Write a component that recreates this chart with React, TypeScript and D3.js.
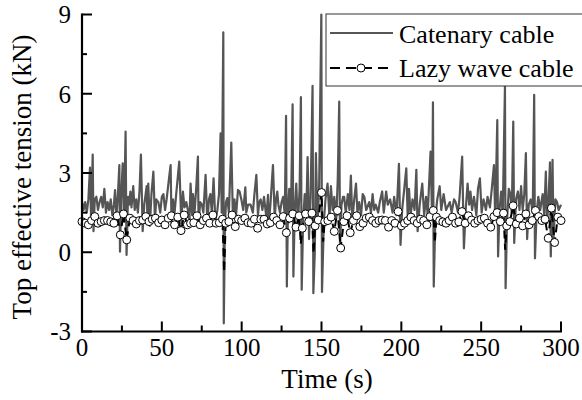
import React from "react";
import * as d3 from "d3";

// Catenary cable: [time (s), top effective tension (kN)]
const catenary: [number, number][] = [
  [0, 1.9], [1, 1.6], [2, 1.9], [3, 1.5], [4, 2.0], [5, 3.2], [5.7, 1.2], [6.7, 3.7], [7.2, 0.8], [8, 2.0],
  [9, 2.1], [10, 1.6], [11, 1.9], [12, 2.1], [13, 1.7], [14, 2.4], [15, 1.5], [16, 1.9], [17, 1.6], [18, 2.0],
  [19, 1.4], [20, 1.8], [20.7, 2.35], [21.5, 1.3], [22.5, 2.2], [23.4, 3.3], [23.8, 0.02], [24.5, 2.0], [25.5, 3.37],
  [26.3, 1.2], [27.3, 4.57], [27.9, -0.1], [28.8, 2.1], [29.5, 1.8], [30.3, 2.3], [31, 1.7], [32.1, 2.5], [33, 1.6],
  [34, 2.0], [35, 1.5], [36, 2.3], [36.9, 3.7], [38, 0.8], [39, 1.8], [40.5, 2.5], [41, 1.2], [41.5, 2.6], [42.5, 1.0],
  [43.5, 2.2], [44.7, 3.05], [45.7, 1.2], [46.5, 2.0], [47.8, 1.9], [49, 1.5], [50, 2.1], [51, 2.2], [52, 1.6],
  [53, 2.0], [54.5, 2.8], [55.5, 3.3], [56.1, 1.0], [57, 2.0], [58, 1.5], [59, 2.2], [60.9, 3.43], [62.2, 1.1],
  [63.2, 2.3], [64.2, 1.7], [65.3, 1.9], [66.3, 1.6], [67.3, 1.2], [68, 2.6], [69, 1.4], [69.5, 2.2], [70.5, 1.5],
  [71.6, 2.5], [72.6, 3.62], [73, 1.0], [74, 1.9], [75.1, 1.8], [76, 1.5], [77.4, 2.93], [78.5, 1.1], [79.5, 2.0],
  [80.4, 2.2], [81.3, 1.5], [82.4, 2.8], [83.5, 1.2], [84.8, 1.6], [85.8, 2.2], [86.8, 4.5], [87.5, 1.5], [88.5, 8.32],
  [88.8, -2.69], [89.5, 1.0], [90.2, 1.9], [91, 2.05], [92, 1.5], [93.5, 4.15], [94.5, 1.3], [95.5, 2.0], [96.5, 1.4],
  [97.7, 2.36], [98.7, 2.3], [99.8, 2.0], [101, 1.6], [102.3, 2.46], [102.9, 1.5], [104, 1.8], [105.6, 1.8], [107, 1.5],
  [108, 2.2], [109.2, 2.93], [110.2, 1.4], [111, 1.9], [111.9, 2.0], [113, 1.6], [114, 2.1], [115.5, 1.3], [116.5, 2.17],
  [116.9, 1.0], [118, 1.8], [119.6, 3.3], [120.7, 1.3], [121.5, 2.0], [122.3, 2.3], [123, 1.8], [124, 1.5], [125, 1.9],
  [126, 2.1], [127, 1.4], [127.8, 5.16], [128.3, -1.3], [129, 1.6], [129.8, 2.4], [130.8, 1.2], [131.9, 5.6], [132.4, -0.92],
  [133.2, 1.5], [134.2, 2.6], [135.2, 1.0], [136.3, 2.4], [137.1, 5.87], [137.6, -1.42], [138.5, 1.2], [139.5, 2.2],
  [140.5, 1.5], [141.3, 3.6], [142.2, 0.5], [143.2, 2.2], [144.4, 6.3], [144.9, -1.55], [145.8, 0.0], [146.5, 3.75],
  [147.5, 1.1], [148.5, 2.4], [149.9, 9.0], [150.3, -1.5], [151.5, 1.2], [152.5, 2.0], [153.8, 2.6], [155, 1.3],
  [155.9, 2.5], [157, 1.6], [158, 2.1], [159.3, 1.3], [160.2, 2.8], [161.1, 5.7], [161.6, 0.1], [162.5, 1.8], [163.5, 2.1],
  [164.2, 2.1], [165.2, 1.5], [166.5, 2.2], [167.5, 1.6], [168.4, 2.9], [169.3, 1.2], [170.5, 2.0], [171.6, 2.6],
  [172.5, 1.5], [173.6, 1.9], [174.8, 1.4], [175.8, 2.2], [176.8, 2.1], [178, 1.6], [179.9, 1.9], [181, 1.5], [182, 2.2],
  [183, 1.6], [184, 1.8], [185.5, 1.5], [186.5, 1.9], [188, 2.3], [189, 1.5], [190.5, 2.3], [191.5, 1.8], [193, 2.0],
  [194.5, 1.5], [195.5, 2.1], [197, 1.4], [198.5, 3.35], [199.5, 0.28], [200.5, 1.6], [201.5, 2.2], [203.1, 3.18],
  [204, 1.3], [204.8, 2.4], [205.8, 1.4], [207, 2.0], [208.3, 1.6], [209.4, 3.12], [210.2, 0.8], [211.5, 1.8], [213.1, 2.6],
  [214.3, 1.4], [215.5, 2.1], [216.5, 1.4], [218.3, 3.81], [219.3, 1.2], [219.8, 5.67], [220.3, -1.3], [221.3, 1.3],
  [222.5, 2.0], [224, 2.5], [225, 1.6], [226.5, 2.2], [228, 1.6], [230.4, 1.9], [231.5, 1.5], [233, 2.0], [234, 1.9],
  [235.5, 1.5], [236.5, 2.1], [238.1, 3.62], [239.2, 0.15], [240.3, 1.6], [241.5, 2.6], [242.5, 1.8], [243.3, 2.3],
  [244.3, 1.6], [245.5, 2.1], [247, 1.4], [248, 2.4], [249.2, 2.8], [250.3, 1.5], [251.5, 2.0], [253, 1.6], [254, 2.1],
  [255.5, 1.7], [256.5, 2.3], [258, 3.3], [258.8, 1.3], [260.1, 5.0], [260.6, -0.16], [261.5, 1.6], [262.5, 2.3],
  [263.5, 1.4], [264.9, 6.28], [265.3, -1.36], [266.2, 1.2], [267.3, 2.4], [268.3, 2.2], [269.2, 1.5], [270.1, 4.95],
  [270.7, 0.35], [271.8, 2.0], [273, 2.3], [274, 1.6], [275, 2.5], [276, 1.6], [277, 2.2], [278, 3.75], [278.8, 0.5],
  [279.8, 1.8], [281, 2.0], [282.3, 1.5], [283.2, 5.96], [283.7, -0.23], [284.7, 1.5], [285.8, 2.1], [287, 1.6],
  [288.5, 2.2], [289.5, 1.4], [290.5, 3.05], [291.3, 1.1], [292.2, 2.0], [293.1, 3.4], [293.6, -0.16], [294.2, 1.5],
  [294.7, 3.5], [295.3, 0.5], [296.5, 2.0], [297.5, 1.9], [298.5, 1.6], [300, 1.8],
];

// Lazy wave cable: marker values every 2 s from 0 to 300
const lazyTimes: number[] = d3.range(0, 301, 2);
const lazyValues: number[] = [
  1.16, 1.1, 1.04, 1.2, 1.35, 1.1, 1.16, 1.2, 1.2, 1.15,
  1.1, 1.38, 0.66, 1.45, 0.47, 1.29, 1.2, 1.07, 1.2, 1.22,
  1.35, 1.16, 1.25, 1.29, 1.12, 1.22, 1.04, 1.29, 1.38, 1.04,
  1.33, 0.82, 1.41, 1.04, 1.1, 1.12, 1.38, 1.04, 1.2, 1.29,
  1.1, 1.41, 1.1, 1.12, 1.25, 1.1, 1.16, 1.41, 0.97, 1.25,
  1.2, 1.29, 1.12, 1.1, 1.25, 0.91, 1.25, 1.25, 1.07, 1.12,
  1.33, 1.2, 1.04, 1.35, 0.74, 1.29, 1.45, 0.95, 1.38, 0.91,
  1.45, 1.16, 1.48, 1.0, 1.22, 2.26, 1.16, 1.2, 1.33, 0.79,
  1.58, 0.16, 1.16, 1.38, 0.74, 1.2, 1.38, 0.97, 1.1, 1.29,
  1.33, 1.2, 1.1, 1.2, 1.22, 1.2, 0.95, 1.2, 1.1, 1.54,
  1.0, 1.1, 1.2, 1.33, 1.2, 1.1, 1.25, 1.2, 1.04, 1.35,
  1.58, 1.33, 1.2, 1.15, 1.1, 1.2, 1.33, 1.1, 1.15, 1.54,
  1.1, 1.38, 1.22, 1.1, 1.2, 1.25, 1.29, 1.1, 0.95, 1.35,
  1.5, 1.16, 1.48, 1.0, 1.16, 1.76, 1.07, 1.29, 1.0, 1.45,
  1.04, 1.2, 1.58, 1.35, 1.2, 1.25, 0.53, 1.67, 0.37, 1.33,
  1.2,
];
// Lazy wave cable: extra line points between markers (dips)
const lazyDips: [number, number][] = [
  [89, -0.75], [137, 0.3], [145, -0.05], [151, 0.4], [221, 0.35], [265, 0.1],
];

const xTicks = [0, 50, 100, 150, 200, 250, 300];
const xMinor = [25, 75, 125, 175, 225, 275];
const yTicks = [-3, 0, 3, 6, 9];
const yMinor = [-1.5, 1.5, 4.5, 7.5];

const seriesNames = ["Catenary cable", "Lazy wave cable"];

export default function App() {
  const W = 582, H = 400;
  const x = d3.scaleLinear().domain([0, 300]).range([82, 561]);
  const y = d3.scaleLinear().domain([-3, 9]).range([331.5, 14.5]);
  const font = '"Liberation Serif", "Times New Roman", Times, serif';
  const ts = { fontFamily: font };

  const catPath = d3.line<[number, number]>().x(d => x(d[0])).y(d => y(d[1]))(catenary) || "";
  const lazyPts: [number, number][] = lazyTimes.map((t, i) => [t, lazyValues[i]] as [number, number])
    .concat(lazyDips)
    .sort((a, b) => a[0] - b[0]);
  const lazyPath = d3.line<[number, number]>().x(d => x(d[0])).y(d => y(d[1]))(lazyPts) || "";

  const axisColor = "#000";
  return (
    <svg width={W} height={H} style={{ position: "absolute", left: 0, top: 0, background: "#fff" }}>
      <rect x={0} y={0} width={W} height={H} fill="#fff" />
      <path d={catPath} fill="none" stroke="#555" strokeWidth={2.2} strokeLinejoin="round" />
      <path d={lazyPath} fill="none" stroke="#000" strokeWidth={2} strokeDasharray="8,5" />
      {lazyTimes.map((t, i) => (
        <circle key={i} cx={x(t)} cy={y(lazyValues[i])} r={4} fill="#fff" stroke="#000" strokeWidth={1} />
      ))}

      {/* axes */}
      <line x1={x(0)} x2={x(0)} y1={y(9) - 1} y2={y(-3) + 1} stroke={axisColor} strokeWidth={2.2} />
      <line x1={x(0) - 1} x2={x(300) + 1} y1={y(-3)} y2={y(-3)} stroke={axisColor} strokeWidth={2.2} />
      {yTicks.map(v => (
        <g key={"yt" + v}>
          <line x1={x(0)} x2={x(0) + 10} y1={y(v)} y2={y(v)} stroke={axisColor} strokeWidth={2} />
          <text x={71} y={y(v)} dy="0.35em" textAnchor="end" fontSize={25} style={ts}>{v}</text>
        </g>
      ))}
      {yMinor.map(v => (
        <line key={"ym" + v} x1={x(0)} x2={x(0) + 5} y1={y(v)} y2={y(v)} stroke={axisColor} strokeWidth={2} />
      ))}
      {xTicks.map(v => (
        <g key={"xt" + v}>
          <line x1={x(v)} x2={x(v)} y1={y(-3)} y2={y(-3) - 10} stroke={axisColor} strokeWidth={2} />
          <text x={x(v)} y={356} textAnchor="middle" fontSize={25} style={ts}>{v}</text>
        </g>
      ))}
      {xMinor.map(v => (
        <line key={"xm" + v} x1={x(v)} x2={x(v)} y1={y(-3)} y2={y(-3) - 6} stroke={axisColor} strokeWidth={2} />
      ))}
      <text x={327} y={388} textAnchor="middle" fontSize={27} style={ts}>Time (s)</text>
      <text transform={`translate(31,177) rotate(-90)`} textAnchor="middle" fontSize={27} style={ts}>Top effective tension (kN)</text>

      {/* legend */}
      <rect x={326} y={14} width={270} height={72} fill="#fff" stroke="#333" strokeWidth={1} />
      <line x1={330} x2={393} y1={33} y2={33} stroke="#555" strokeWidth={1.8} />
      <text x={399} y={43} fontSize={26} style={ts}>{seriesNames[0]}</text>
      <line x1={330} x2={393} y1={68} y2={68} stroke="#000" strokeWidth={2} strokeDasharray="10,6" />
      <circle cx={361} cy={68} r={4} fill="#fff" stroke="#000" strokeWidth={1} />
      <text x={399} y={77} fontSize={26} style={ts}>{seriesNames[1]}</text>
    </svg>
  );
}
